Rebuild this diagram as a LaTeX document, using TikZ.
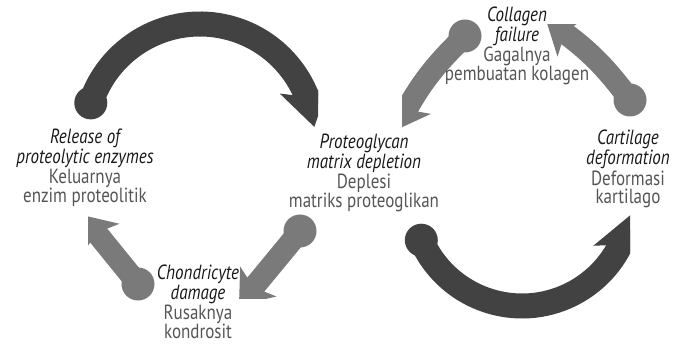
\documentclass[tikz,border=0pt]{standalone}
\usepackage{fontspec}
\usepackage{xcolor}
\usepackage{tikz}
\usetikzlibrary{arrows.meta,bending,positioning}
\newfontfamily\lblfont{PT Sans}[FakeStretch=0.83]
\definecolor{darkarr}{RGB}{66,66,66}
\definecolor{lightarr}{RGB}{122,122,122}
\definecolor{subgray}{RGB}{85,85,85}
\newcommand{\hd}[1]{{\color{black!90}\itshape #1}}
\tikzset{
  lbl/.style={align=center, inner sep=0pt, text=subgray,
              font=\lblfont\fontsize{20.5}{18}\selectfont},
  ball/.style={circle, fill=#1, inner sep=0pt, minimum size=33pt},
  ball/.default={lightarr},
  bigarr/.style={line width=25pt, darkarr, -{Stealth[length=40pt, width=50pt, inset=9pt]}},
  smallarr/.style={line width=22pt, lightarr, -{Stealth[length=30pt, width=46pt, inset=7pt]}},
}

\begin{document}
\begin{tikzpicture}[x=1pt, y=1pt]
\useasboundingbox (0,0) rectangle (675,343);
% left cycle
\node[ball=darkarr] (b1) at (90.8,240.1) {};
\begin{scope}
  \clip (0,0) rectangle (318,343);
  \draw[bigarr] (b1.center) arc[start angle=161.7, end angle=6, radius=115];
\end{scope}
\node[ball] (b2) at (300,112) {};
\coordinate (t2) at (239,38);
\begin{scope}
  \clip (0,45) rectangle (675,343);
  \draw[smallarr] (b2.center) -- (t2);
\end{scope}
\node[ball] (b3) at (138,59) {};
\coordinate (t3) at (82,128);
\begin{scope}
  \clip (88,0) rectangle (675,343);
  \draw[smallarr] (b3.center) -- (t3);
\end{scope}
% right cycle
\node[ball=darkarr] (b4) at (421.3,102.8) {};
\begin{scope}
  \clip (0,0) rectangle (630,343);
  \draw[bigarr] (b4.center) arc[start angle=203.7, end angle=350, radius=110];
\end{scope}
\node[ball] (b5) at (630,243) {};
\coordinate (t5) at (546,323);
\begin{scope}
  \clip (0,0) rectangle (675,318);
  \draw[smallarr] (b5.center) to[bend right=10] (t5);
\end{scope}
\node[ball] (b6) at (465,307) {};
\coordinate (t6) at (396,213);
\begin{scope}
  \clip (402,0) rectangle (675,343);
  \draw[smallarr] (b6.center) to[bend right=10] (t6);
\end{scope}
% labels
\node[lbl] (release) at (85,175) {\hd{Release of}\\\hd{proteolytic enzymes}\\Keluarnya\\enzim proteolitik};
\node[lbl] (proteo) at (364,170) {\hd{Proteoglycan}\\\hd{matrix depletion}\\Deplesi\\matriks proteoglikan};
\node[lbl] (chondro) at (198,41) {\hd{Chondricyte}\\\hd{damage}\\Rusaknya\\kondrosit};
\node[lbl] (collagen) at (517,297) {\hd{Collagen}\\\hd{failure}\\Gagalnya\\pembuatan kolagen};
\node[lbl] (cartilage) at (628,174) {\hd{Cartilage}\\\hd{deformation}\\[2pt]Deformasi\\kartilago};
\end{tikzpicture}
\end{document}
